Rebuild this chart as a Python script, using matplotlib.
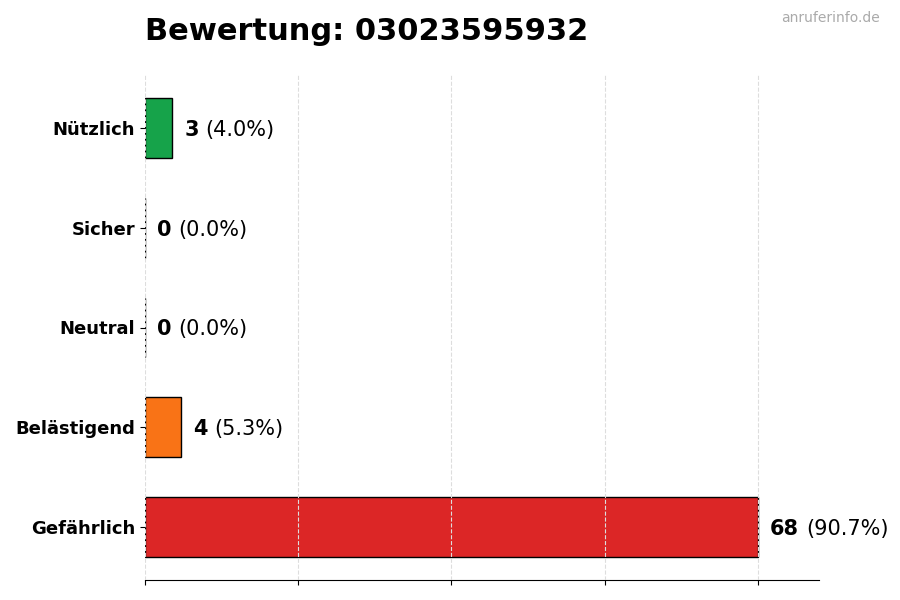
import matplotlib
matplotlib.use("Agg")
import matplotlib.pyplot as plt

categories = ["Nützlich", "Sicher", "Neutral", "Belästigend", "Gefährlich"]
counts = [3, 0, 0, 4, 68]
colors = ["#16a34a", "#2563eb", "#9ca3af", "#f97316", "#dc2626"]
phone = "03023595932"

total = sum(counts)
xmax = max(counts)

fig = plt.figure(figsize=(9, 6), dpi=100)
ax = fig.add_axes([145/900, 20/600, 674/900, 505/600])

ypos = list(range(len(categories)))[::-1]
ax.barh(ypos, counts, height=0.6, color=colors, edgecolor="black", linewidth=1, zorder=2)

ax.set_xlim(0, xmax * 1.1)
ax.set_xticks([xmax * i / 4 for i in range(5)])
ax.set_xticklabels([])
ax.set_yticks(ypos)
ax.set_yticklabels(categories, fontsize=13, fontweight="bold")
ax.grid(axis="x", linestyle="--", color="#dddddd", linewidth=0.8, zorder=3)
ax.set_axisbelow(False)
for s in ["top", "right", "left"]:
    ax.spines[s].set_visible(False)

for y, c in zip(ypos, counts):
    pct = c / total * 100
    t = ax.text(c + xmax * 0.02, y, str(c), fontsize=15, fontweight="bold",
                va="center_baseline", ha="left", zorder=4)
    ax.annotate(f"({pct:.1f}%)", xy=(1, 0), xycoords=t, xytext=(5, 0),
                textcoords="offset points", fontsize=15, va="bottom", ha="left")

fig.text(145/900, 1 - 40/600, f"Bewertung: {phone}", fontsize=22,
         fontweight="bold", ha="left", va="baseline")
fig.text(880/900, 1 - 11/600, "anruferinfo.de", fontsize=10, color="#aaaaaa",
         ha="right", va="top")

fig.savefig("out.png", dpi=100)
